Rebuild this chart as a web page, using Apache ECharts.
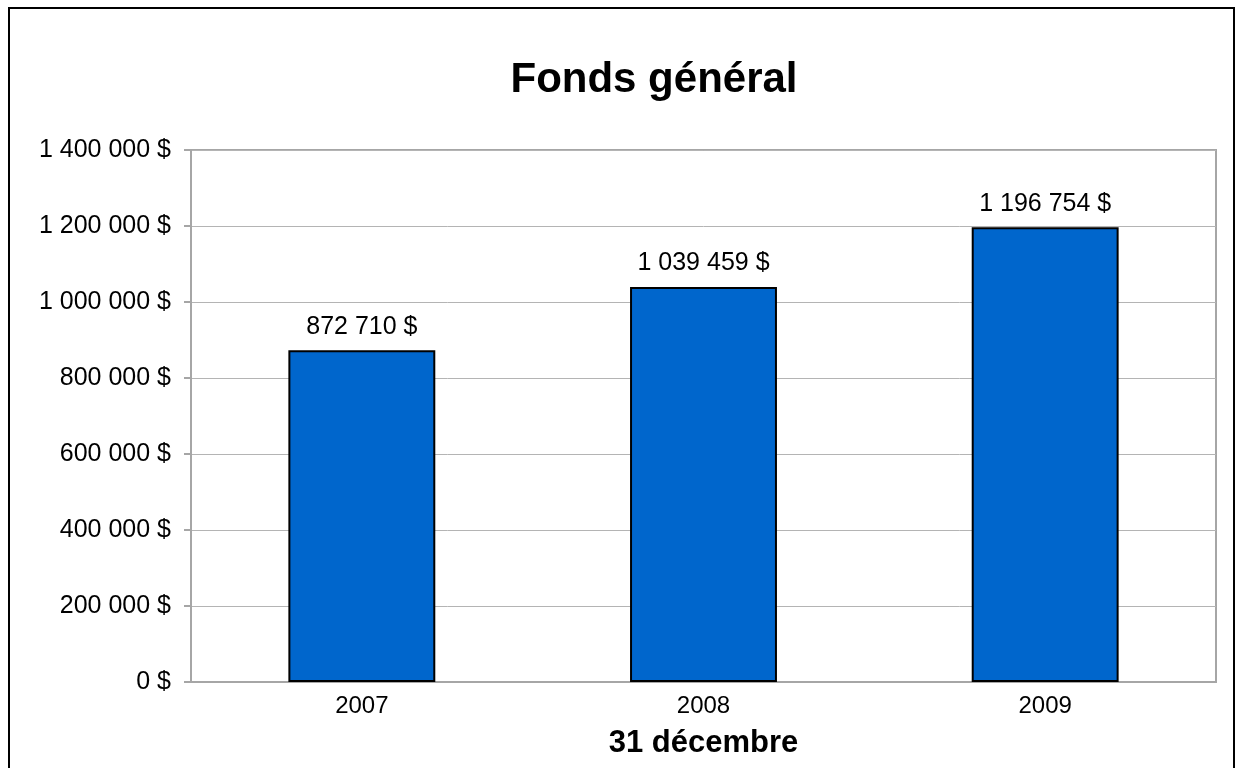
<!DOCTYPE html>
<html>
<head>
<meta charset="utf-8">
<script src="https://cdn.jsdelivr.net/npm/echarts@6/dist/echarts.min.js"></script>
<style>
html, body { margin: 0; padding: 0; background: #fff; }
#frame { position: absolute; left: 8px; top: 7px; width: 1227px; height: 800px; border: 2px solid #000; box-sizing: border-box; }
#chart { position: absolute; left: 0; top: 0; width: 1236px; height: 768px; }
</style>
</head>
<body>
<div id="frame"></div>
<div id="chart"></div>
<script>
var years = ['2007', '2008', '2009'];
var values = [872710, 1039459, 1196754];

function fmt(v) {
    return String(Math.round(v)).replace(/\B(?=(\d{3})+(?!\d))/g, ' ') + ' $';
}

var font = '"Liberation Sans", Arial, sans-serif';
var chart = echarts.init(document.getElementById('chart'));
var option = {
    animation: false,
    title: {
        text: 'Fonds général',
        left: 649,
        textAlign: 'center',
        top: 54,
        textStyle: { fontFamily: font, fontSize: 42, fontWeight: 'bold', color: '#000' }
    },
    grid: {
        left: 191, right: 20, top: 150, bottom: 86,
        show: true, borderColor: '#a6a6a6', borderWidth: 2
    },
    xAxis: {
        type: 'category',
        data: years,
        name: '31 décembre',
        nameLocation: 'middle',
        nameGap: 46,
        nameTextStyle: { fontFamily: font, fontSize: 31, fontWeight: 'bold', color: '#000' },
        axisLine: { lineStyle: { color: '#a6a6a6', width: 2 } },
        axisTick: { show: false },
        axisLabel: { fontFamily: font, fontSize: 24, color: '#000', margin: 12 }
    },
    yAxis: {
        type: 'value',
        min: 0, max: 1400000, interval: 200000,
        axisLine: { show: true, lineStyle: { color: '#a6a6a6', width: 2 } },
        axisTick: { show: true, length: 7, lineStyle: { color: '#a6a6a6', width: 2 } },
        splitLine: { lineStyle: { color: '#b4b4b4', width: 1 } },
        axisLabel: { fontFamily: font, fontSize: 25, color: '#000', margin: 20, formatter: fmt }
    },
    series: [{
        type: 'bar',
        data: values,
        barWidth: '43%',
        itemStyle: { color: '#0066CC', borderColor: '#000', borderWidth: 2 },
        label: {
            show: true, position: 'top', distance: 11,
            fontFamily: font, fontSize: 25, color: '#000',
            formatter: function (p) { return fmt(p.value); }
        }
    }]
};
chart.setOption(option);
</script>
</body>
</html>
